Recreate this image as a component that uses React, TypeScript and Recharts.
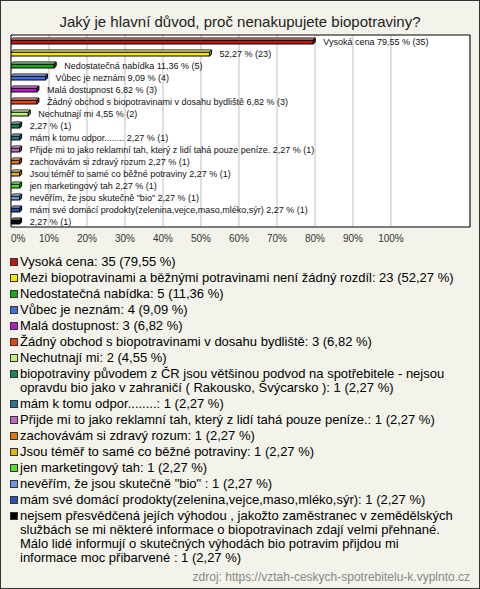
import React from 'react';
import { BarChart, Bar, XAxis, YAxis, CartesianGrid, Legend, ReferenceArea } from 'recharts';

const title = 'Jaký je hlavní důvod, proč nenakupujete biopotraviny?';
const source = 'zdroj: https://vztah-ceskych-spotrebitelu-k.vyplnto.cz';

const categories = [
  'Vysoká cena',
  'Mezi biopotravinami a běžnými potravinami není žádný rozdíl',
  'Nedostatečná nabídka',
  'Vůbec je neznám',
  'Malá dostupnost',
  'Žádný obchod s biopotravinami v dosahu bydliště',
  'Nechutnají mi',
  'biopotraviny původem z ČR jsou většinou podvod na spotřebitele - nejsou opravdu bio jako v zahraničí ( Rakousko, Švýcarsko )',
  'mám k tomu odpor........',
  'Přijde mi to jako reklamní tah, který z lidí tahá pouze peníze.',
  'zachovávám si zdravý rozum',
  'Jsou téměř to samé co běžné potraviny',
  'jen marketingový tah',
  'nevěřím, že jsou skutečně "bio" ',
  'mám své domácí prodokty(zelenina,vejce,maso,mléko,sýr)',
  'nejsem přesvědčená jejích výhodou , jakožto zaměstranec v zemědělských službách se mi některé informace o biopotravinach zdají velmi přehnané. Málo lidé informují o skutečných výhodách bio potravim přijdou mi\ninformace moc přibarvené ',
];

const barNames = [
  'Vysoká cena',
  '',
  'Nedostatečná nabídka',
  'Vůbec je neznám',
  'Malá dostupnost',
  'Žádný obchod s biopotravinami v dosahu bydliště',
  'Nechutnají mi',
  '',
  'mám k tomu odpor........',
  'Přijde mi to jako reklamní tah, který z lidí tahá pouze peníze.',
  'zachovávám si zdravý rozum',
  'Jsou téměř to samé co běžné potraviny',
  'jen marketingový tah',
  'nevěřím, že jsou skutečně "bio" ',
  'mám své domácí prodokty(zelenina,vejce,maso,mléko,sýr)',
  '',
];

const counts = [35, 23, 5, 4, 3, 3, 2, 1, 1, 1, 1, 1, 1, 1, 1, 1];
const percents = [79.55, 52.27, 11.36, 9.09, 6.82, 6.82, 4.55, 2.27, 2.27, 2.27, 2.27, 2.27, 2.27, 2.27, 2.27, 2.27];

const colors = [
  '#c0170c', '#f7e600', '#18a818', '#4070e0', '#b818c8', '#e04512', '#bcf27a', '#12885a',
  '#217a92', '#c266c2', '#e2760f', '#e2b415', '#52e030', '#6a96e2', '#2a52b2', '#000000',
];

const xTicks = [0, 10, 20, 30, 40, 50, 60, 70, 80, 90, 100];

const data = categories.map((name, i) => ({
  id: `c${i}`,
  name,
  barName: barNames[i],
  value: percents[i],
  count: counts[i],
  color: colors[i],
}));

const fmt = (v: number) => v.toFixed(2).replace('.', ',');

const FONT = '"Liberation Sans", Arial, sans-serif';

const Bar3D = (props: any) => {
  const { x, y, width, height, payload } = props;
  const d = 2;
  const w = Math.max(width, 1);
  const top = y;
  const bot = y + height;
  const label = (payload.barName ? payload.barName + ' ' : '') + `${fmt(payload.value)} % (${payload.count})`;
  return (
    <g>
      <rect x={x} y={top + d} width={w} height={height - d} fill={payload.color} stroke="#000" strokeWidth={1} />
      <polygon
        points={`${x},${top + d} ${x + d},${top} ${x + w + d},${top} ${x + w},${top + d}`}
        fill={payload.color}
        stroke="#000"
        strokeWidth={1}
      />
      <polygon
        points={`${x},${top + d} ${x + d},${top} ${x + w + d},${top} ${x + w},${top + d}`}
        fill="#fff"
        fillOpacity={0.35}
      />
      <polygon
        points={`${x + w},${top + d} ${x + w + d},${top} ${x + w + d},${bot - d} ${x + w},${bot}`}
        fill={payload.color}
        stroke="#000"
        strokeWidth={1}
      />
      <polygon
        points={`${x + w},${top + d} ${x + w + d},${top} ${x + w + d},${bot - d} ${x + w},${bot}`}
        fill="#000"
        fillOpacity={0.3}
      />
      <text
        x={x + w + 10}
        y={top + height / 2 + 0.5}
        dominantBaseline="central"
        fontSize={9}
        fontFamily={FONT}
        fill="#111"
      >
        {label}
      </text>
    </g>
  );
};

const XTick = (props: any) => {
  const { x, y, payload } = props;
  const isZero = payload.value === 0;
  return (
    <text
      x={x}
      y={y}
      dy="0.71em"
      textAnchor={isZero ? 'start' : 'middle'}
      fontSize={10}
      fontFamily={FONT}
      fill="#333"
    >
      {`${payload.value}%`}
    </text>
  );
};

const LegendList = () => (
  <div style={{ fontFamily: FONT, fontSize: 13, color: '#000', textAlign: 'left' }}>
    {data.map((d) => (
      <div
        key={d.id}
        style={{
          position: 'relative',
          paddingLeft: 20,
          width: 450,
          lineHeight: '14px',
          marginBottom: 2,
          whiteSpace: 'pre-line',
        }}
      >
        <span
          style={{
            position: 'absolute',
            left: 10,
            top: 3,
            width: 6,
            height: 6,
            background: d.color,
            border: '1px solid #333',
          }}
        />
        {`${d.name}: ${d.count} (${fmt(d.value)} %)`}
      </div>
    ))}
  </div>
);

export default function App() {
  return (
    <div
      style={{
        position: 'absolute',
        left: 0,
        top: 0,
        width: 480,
        height: 589,
        background: '#f3f3eb',
        border: '1px solid #333',
        boxSizing: 'border-box',
        overflow: 'hidden',
      }}
    >
      <div
        style={{
          position: 'absolute',
          left: -1,
          top: -1,
          width: 480,
        }}
      >
        <BarChart
          width={480}
          height={589}
          data={data}
          layout="vertical"
          margin={{ top: 35, left: 11, right: 10, bottom: 342 }}
          barCategoryGap={0}
        >
          <CartesianGrid horizontal={false} stroke="#c0c0c0" fill="#ffffff" />
          <XAxis
            type="number"
            domain={[0, 120.8]}
            ticks={xTicks}
            interval={0}
            axisLine={false}
            tickLine={false}
            tick={<XTick />}
            height={20}
            allowDataOverflow
          />
          <YAxis type="category" dataKey="id" hide />
          <ReferenceArea x1={0} x2={120.8} stroke="#000" strokeWidth={1} fill="none" fillOpacity={0} ifOverflow="visible" />
          <Bar dataKey="value" barSize={6} shape={<Bar3D />} isAnimationActive={false} />
          <Legend
            layout="horizontal"
            verticalAlign="middle"
            align="center"
            wrapperStyle={{ position: 'absolute', top: 255, left: 0, width: 480 }}
            content={() => <LegendList />}
          />
        </BarChart>
      </div>
      <div
        style={{
          position: 'absolute',
          left: -1,
          top: 11,
          width: 480,
          textAlign: 'center',
          fontFamily: FONT,
          fontSize: 15,
          lineHeight: '20px',
          color: '#222',
        }}
      >
        {title}
      </div>
      <div
        style={{
          position: 'absolute',
          right: 9,
          top: 569,
          fontFamily: FONT,
          fontSize: 12,
          lineHeight: '14px',
          color: '#888',
        }}
      >
        {source}
      </div>
    </div>
  );
}
